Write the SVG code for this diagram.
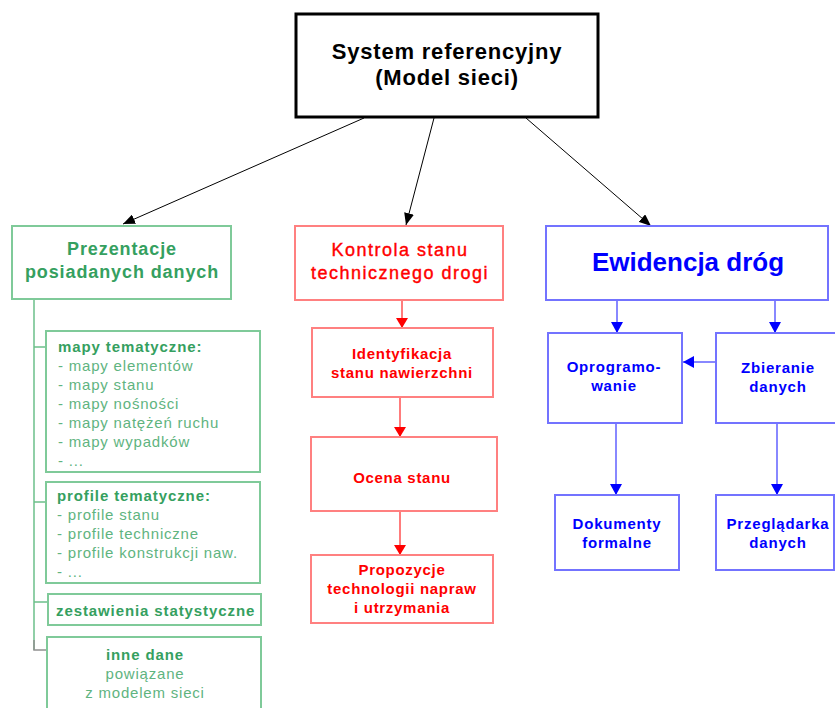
<svg xmlns="http://www.w3.org/2000/svg" width="835" height="708" viewBox="0 0 835 708">
<style>
text{font-family:"Liberation Sans",Arial,sans-serif}
.bx{fill:#fff}
.g{stroke:#7fca99;stroke-width:2}
.r{stroke:#ff8080;stroke-width:2}
.b{stroke:#7373ff;stroke-width:2}
.gh{fill:#35a060;font-size:18px;font-weight:bold;letter-spacing:0.9px;text-anchor:middle}
.rh{fill:#ff0000;stroke:#ff0000;stroke-width:0.4px;font-size:18px;letter-spacing:1.5px;text-anchor:middle}
.gb{fill:#35a060;font-size:15px;font-weight:bold;letter-spacing:0.9px}
.gl{fill:#5fb47f;font-size:15px;letter-spacing:0.8px}
.rs{fill:#ff0000;font-size:15px;font-weight:bold;letter-spacing:0.7px;text-anchor:middle}
.bs{fill:#0000ff;font-size:15px;font-weight:bold;letter-spacing:0.8px;text-anchor:middle}
.k{stroke:#000;stroke-width:1;fill:none}
.rl{stroke:#ff5050;stroke-width:1.5;fill:none}
.bl{stroke:#6060ff;stroke-width:1.5;fill:none}
.tl{stroke:#6cc08a;stroke-width:1.5;fill:none}
</style>
<defs>
<marker id="ak" markerUnits="userSpaceOnUse" markerWidth="12" markerHeight="10" refX="12" refY="5" orient="auto"><path d="M0,0 L12,5 L0,10 z" fill="#000"/></marker>
<marker id="ar" markerUnits="userSpaceOnUse" markerWidth="10" markerHeight="12" refX="10" refY="6" orient="auto"><path d="M0,0 L10,6 L0,12 z" fill="#ff0000"/></marker>
<marker id="ab" markerUnits="userSpaceOnUse" markerWidth="11" markerHeight="12" refX="11" refY="6" orient="auto"><path d="M0,0 L11,6 L0,12 z" fill="#0000ff"/></marker>
</defs>

<g id="connectors">
<line class="k" x1="364" y1="118" x2="123" y2="224" marker-end="url(#ak)"/>
<line class="k" x1="434" y1="118" x2="406" y2="225" marker-end="url(#ak)"/>
<line class="k" x1="526" y1="118" x2="651" y2="226" marker-end="url(#ak)"/>
<path class="tl" d="M34,300 V650 M34,347 H46 M34,502 H46 M34,602 H48"/>
<path d="M34,640 V650 H47" stroke="#909090" stroke-width="1.5" fill="none"/>
<line class="rl" x1="402" y1="300" x2="402" y2="328" marker-end="url(#ar)"/>
<line class="rl" x1="400" y1="397" x2="400" y2="437" marker-end="url(#ar)"/>
<line class="rl" x1="400" y1="511" x2="400" y2="555" marker-end="url(#ar)"/>
<line class="bl" x1="617" y1="300" x2="617" y2="333" marker-end="url(#ab)"/>
<line class="bl" x1="775" y1="300" x2="775" y2="333" marker-end="url(#ab)"/>
<line class="bl" x1="716" y1="362" x2="683" y2="362" marker-end="url(#ab)"/>
<line class="bl" x1="616" y1="423" x2="616" y2="495" marker-end="url(#ab)"/>
<line class="bl" x1="777" y1="423" x2="777" y2="495" marker-end="url(#ab)"/>
</g>

<g id="system">
<rect x="296" y="14" width="302" height="103" fill="#fff" stroke="#000" stroke-width="3"/>
<text x="447" y="58.5" font-size="22" font-weight="bold" letter-spacing="0.8" text-anchor="middle" fill="#000">System referencyjny</text>
<text x="447" y="85" font-size="22" font-weight="bold" letter-spacing="0.8" text-anchor="middle" fill="#000">(Model sieci)</text>
</g>

<g id="prezentacje">
<rect class="bx g" x="12" y="226" width="219" height="73"/>
<text class="gh" x="122" y="255">Prezentacje</text>
<text class="gh" x="122" y="278">posiadanych danych</text>
</g>

<g id="mapy">
<rect class="bx g" x="46" y="331" width="214" height="141"/>
<text class="gb" x="58" y="352">mapy tematyczne:</text>
<text class="gl" x="58" y="371">- mapy elementów</text>
<text class="gl" x="58" y="390">- mapy stanu</text>
<text class="gl" x="58" y="409">- mapy nośności</text>
<text class="gl" x="58" y="428">- mapy natężeń ruchu</text>
<text class="gl" x="58" y="447">- mapy wypadków</text>
<text class="gl" x="58" y="466">- ...</text>
</g>

<g id="profile">
<rect class="bx g" x="46" y="482" width="214" height="101"/>
<text class="gb" x="57" y="501">profile tematyczne:</text>
<text class="gl" x="57" y="520">- profile stanu</text>
<text class="gl" x="57" y="539">- profile techniczne</text>
<text class="gl" x="57" y="558">- profile konstrukcji naw.</text>
<text class="gl" x="57" y="577">- ...</text>
</g>

<g id="zestawienia">
<rect class="bx g" x="48" y="594" width="213" height="31"/>
<text class="gb" x="56" y="616">zestawienia statystyczne</text>
</g>

<g id="inne">
<rect class="bx g" x="47" y="637" width="214" height="80"/>
<text class="gb" x="145" y="660" text-anchor="middle">inne dane</text>
<text class="gl" x="145" y="679" text-anchor="middle">powiązane</text>
<text class="gl" x="145" y="698" text-anchor="middle">z modelem sieci</text>
</g>

<g id="kontrola">
<rect class="bx r" x="295" y="226" width="208" height="74"/>
<text class="rh" x="400" y="255.5">Kontrola stanu</text>
<text class="rh" x="400" y="278.5">technicznego drogi</text>
</g>

<g id="identyfikacja">
<rect class="bx r" x="312" y="328" width="181" height="69"/>
<text class="rs" x="402" y="359">Identyfikacja</text>
<text class="rs" x="402" y="378">stanu nawierzchni</text>
</g>

<g id="ocena">
<rect class="bx r" x="311" y="437" width="186" height="74"/>
<text class="rs" x="402" y="483">Ocena stanu</text>
</g>

<g id="propozycje">
<rect class="bx r" x="311" y="555" width="182" height="68"/>
<text class="rs" x="402" y="575">Propozycje</text>
<text class="rs" x="402" y="594">technologii napraw</text>
<text class="rs" x="402" y="613">i utrzymania</text>
</g>

<g id="ewidencja">
<rect class="bx b" x="546" y="226" width="282" height="74"/>
<text x="688" y="271" font-size="26" font-weight="bold" fill="#0000ff" text-anchor="middle">Ewidencja dróg</text>
</g>

<g id="oprogramowanie">
<rect class="bx b" x="548" y="333" width="134" height="90"/>
<text class="bs" x="614" y="372">Oprogramo-</text>
<text class="bs" x="614" y="391">wanie</text>
</g>

<g id="zbieranie">
<rect class="bx b" x="716" y="333" width="125" height="90"/>
<text class="bs" x="778" y="373">Zbieranie</text>
<text class="bs" x="778" y="392">danych</text>
</g>

<g id="dokumenty">
<rect class="bx b" x="555" y="495" width="124" height="75"/>
<text class="bs" x="617" y="529">Dokumenty</text>
<text class="bs" x="617" y="548">formalne</text>
</g>

<g id="przegladarka">
<rect class="bx b" x="716" y="495" width="118" height="75"/>
<text class="bs" x="778" y="529">Przeglądarka</text>
<text class="bs" x="778" y="548">danych</text>
</g>
</svg>
